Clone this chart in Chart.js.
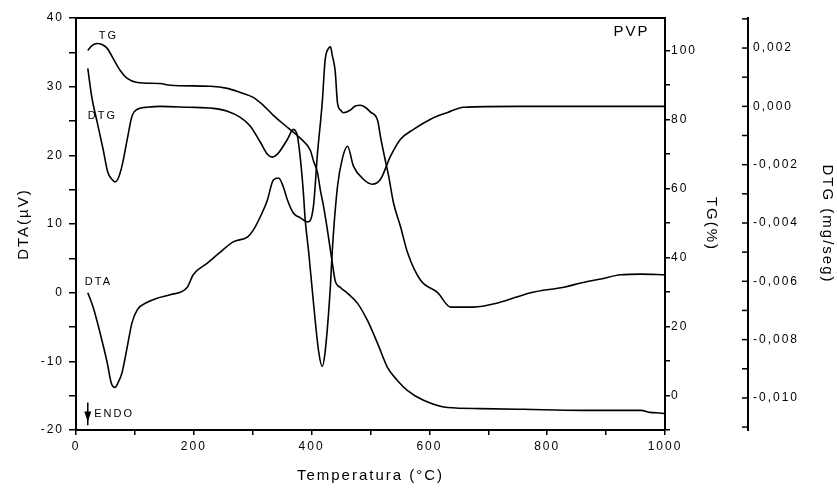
<!DOCTYPE html>
<html>
<head>
<meta charset="utf-8">
<script src="https://cdn.jsdelivr.net/npm/chart.js@4.4.1/dist/chart.umd.min.js"></script>
<style>
  body { margin: 0; background: #fff; }
  canvas { display: block; }
</style>
</head>
<body>
<canvas id="chart-tga" width="837" height="491"></canvas>
<script>
// temperatures (°C) and readings for each curve
const dtaTemp = [20, 29, 41, 53, 60, 66, 72, 78, 87, 95, 104, 121, 138, 160, 189, 199, 223, 245, 267, 291, 301, 318, 325, 335, 344, 352, 359, 369, 381, 393, 403, 410, 418, 423, 429, 432, 435, 440, 444, 449, 454, 466, 474, 483, 491, 500, 512, 517, 526, 531, 539, 551, 563, 585, 614, 636, 675, 716, 772, 828, 857, 891, 925, 959, 1000];
const dtaValues = [0, -2.1, -5.9, -10.2, -13.2, -13.8, -13.0, -11.7, -7.9, -4.4, -2.5, -1.4, -0.8, -0.3, 0.8, 2.6, 4.3, 5.9, 7.4, 8.1, 9.1, 12.0, 13.5, 16.4, 16.7, 15.4, 13.5, 11.6, 10.9, 10.3, 12.5, 20.3, 27.6, 33.9, 35.6, 35.8, 34.6, 32.3, 27.6, 26.6, 26.2, 26.6, 27.2, 27.3, 27.0, 26.3, 25.1, 22.7, 18.9, 16.9, 13.1, 9.6, 5.8, 1.8, 0.0, -2.1, -2.1, -1.5, 0.0, 0.8, 1.4, 2.0, 2.6, 2.7, 2.6];

const tgTemp = [20, 27, 36, 44, 53, 63, 75, 87, 104, 143, 160, 228, 257, 279, 301, 318, 335, 359, 381, 398, 403, 410, 415, 420, 427, 435, 440, 449, 461, 478, 495, 512, 529, 546, 563, 590, 631, 687, 760, 857, 959, 975, 985, 1000];
const tgValues = [100.0, 101.4, 102.0, 101.7, 100.6, 97.7, 94.2, 91.9, 90.7, 90.4, 89.9, 89.6, 89.0, 87.8, 86.4, 84.1, 81.2, 77.7, 74.5, 71.0, 68.1, 64.6, 59.4, 55.1, 47.8, 38.6, 33.3, 31.3, 29.6, 26.7, 21.7, 15.1, 8.1, 4.3, 1.4, -1.4, -3.5, -3.8, -4.0, -4.3, -4.3, -4.9, -5.0, -5.2];

const dtgTemp = [20, 27, 36, 46, 54, 61, 66, 71, 78, 87, 95, 104, 121, 143, 189, 233, 257, 279, 296, 313, 325, 333, 342, 359, 369, 376, 381, 386, 389, 395, 403, 412, 418, 423, 432, 435, 444, 452, 461, 471, 488, 503, 517, 534, 551, 573, 602, 631, 658, 750, 850, 1000];
const dtgValues = [0.0013, 0.0003, -0.00055, -0.00147, -0.00226, -0.0025, -0.00259, -0.0025, -0.00205, -0.00113, -0.00034, -0.0001, -0.00003, 0, -0.00003, -0.00007, -0.00017, -0.00038, -0.00068, -0.00123, -0.00164, -0.00174, -0.00164, -0.00113, -0.00079, -0.00103, -0.00181, -0.00294, -0.00386, -0.00499, -0.0067, -0.00841, -0.00892, -0.00841, -0.00615, -0.00499, -0.00274, -0.00181, -0.00137, -0.00205, -0.0025, -0.00267, -0.0025, -0.00171, -0.00113, -0.00079, -0.00044, -0.00021, -0.00003, 0, 0, 0];

// text labels drawn on the plot: [text, temperature, DTA value, align]
const notes = [
  ['TG', 55, 37.4, 'center'],
  ['DTG', 20, 25.8, 'left'],
  ['DTA', 15, 1.6, 'left'],
  ['ENDO', 31, -17.7, 'left'],
];

const toPoints = (xs, ys) => xs.map((x, i) => ({ x, y: ys[i] }));

const FONT = 'Arial, "Liberation Sans", sans-serif';
const tickFont = { family: FONT, size: 12 };
const titleFont = { family: FONT, size: 15 };

const fixSize = (prop, value) => (scale) => { scale[prop] = value; };

const extras = {
  id: 'extras',
  beforeDraw: (chart) => {
    chart.ctx.letterSpacing = '2px';
  },
  afterDraw: (chart) => {
    const { ctx, chartArea, scales } = chart;
    const xs = scales.x;
    const ys = scales.y;
    ctx.save();
    ctx.strokeStyle = '#000';
    ctx.fillStyle = '#000';

    // top frame line
    ctx.lineWidth = 2;
    ctx.beginPath();
    ctx.moveTo(chartArea.left, chartArea.top);
    ctx.lineTo(chartArea.right + 1, chartArea.top);
    ctx.stroke();

    // DTG axis ticks point inward
    const d = scales.yDTG;
    ctx.lineWidth = 1.5;
    d.ticks.forEach((t, i) => {
      const y = d.getPixelForTick(i);
      ctx.beginPath();
      ctx.moveTo(d.left - 6, y);
      ctx.lineTo(d.left, y);
      ctx.stroke();
    });

    // curve labels
    ctx.font = '11px ' + FONT;
    ctx.letterSpacing = '2px';
    ctx.textBaseline = 'middle';
    notes.forEach(([text, t, v, align]) => {
      ctx.textAlign = align;
      ctx.fillText(text, xs.getPixelForValue(t), ys.getPixelForValue(v));
    });

    // endo arrow
    const ax = xs.getPixelForValue(20);
    const a0 = ys.getPixelForValue(-16.0);
    const a1 = ys.getPixelForValue(-19.3);
    const head = ys.getPixelForValue(-17.3);
    const tip = ys.getPixelForValue(-18.8);
    ctx.lineWidth = 1.5;
    ctx.beginPath();
    ctx.moveTo(ax, a0);
    ctx.lineTo(ax, a1);
    ctx.stroke();
    ctx.beginPath();
    ctx.moveTo(ax - 3.5, head);
    ctx.lineTo(ax + 3.5, head);
    ctx.lineTo(ax, tip);
    ctx.closePath();
    ctx.fill();

    // sample name
    ctx.font = '15px ' + FONT;
    ctx.textAlign = 'center';
    ctx.fillText('PVP', xs.getPixelForValue(943), ys.getPixelForValue(38.0));
    ctx.restore();
  },
};

const lineStyle = {
  borderColor: '#000',
  borderWidth: 1.6,
  pointRadius: 0,
  fill: false,
  cubicInterpolationMode: 'monotone',
};

const axisStyle = (tickLength) => ({
  grid: { drawOnChartArea: false, color: '#000', lineWidth: 1.5, tickLength },
  border: { color: '#000', width: 2 },
});

new Chart(document.getElementById('chart-tga').getContext('2d'), {
  type: 'line',
  data: {
    datasets: [
      { ...lineStyle, label: 'DTA', data: toPoints(dtaTemp, dtaValues), yAxisID: 'y' },
      { ...lineStyle, label: 'TG', data: toPoints(tgTemp, tgValues), yAxisID: 'yTG' },
      { ...lineStyle, label: 'DTG', data: toPoints(dtgTemp, dtgValues), yAxisID: 'yDTG' },
    ],
  },
  options: {
    responsive: false,
    animation: false,
    color: '#000',
    layout: { padding: { top: 18, left: 0, right: 0, bottom: 0 } },
    plugins: { legend: { display: false }, tooltip: { enabled: false } },
    scales: {
      x: {
        type: 'linear',
        position: 'bottom',
        min: 0,
        max: 1000,
        ...axisStyle(5),
        afterFit: fixSize('height', 61),
        ticks: {
          stepSize: 100,
          autoSkip: false,
          maxRotation: 0,
          maxTicksLimit: 30,
          color: '#000',
          font: tickFont,
          padding: 4,
          callback: (v) => (v % 200 === 0 ? v : ''),
        },
        title: { display: true, text: 'Temperatura (°C)', color: '#000', font: titleFont, padding: { top: 0, bottom: 6 } },
      },
      y: {
        position: 'left',
        min: -20,
        max: 40,
        ...axisStyle(7),
        afterFit: fixSize('width', 76),
        ticks: {
          stepSize: 5,
          maxTicksLimit: 30,
          color: '#000',
          font: tickFont,
          padding: 5,
          callback: (v) => (v % 10 === 0 ? v : ''),
        },
        title: { display: true, text: 'DTA(µV)', color: '#000', font: titleFont, padding: { top: 15, bottom: 0 } },
      },
      yTG: {
        position: 'right',
        weight: 1,
        min: -10,
        max: 109.4,
        ...axisStyle(5),
        afterFit: fixSize('width', 83),
        ticks: {
          stepSize: 10,
          includeBounds: false,
          maxTicksLimit: 30,
          color: '#000',
          font: tickFont,
          padding: 1,
          callback: (v) => (v % 20 === 0 && v >= 0 ? v : ''),
        },
        title: { display: true, text: 'TG(%)', color: '#000', font: titleFont, padding: { top: 28, bottom: 0 } },
      },
      yDTG: {
        position: 'right',
        weight: 2,
        min: -0.0111,
        max: 0.00303,
        grid: { drawOnChartArea: false, drawTicks: false },
        border: { color: '#000', width: 2 },
        afterFit: fixSize('width', 89),
        ticks: {
          stepSize: 0.001,
          includeBounds: false,
          maxTicksLimit: 30,
          color: '#000',
          font: tickFont,
          padding: 5,
          callback: (v) => {
            const n = Math.round(v * 1000);
            return n % 2 === 0 ? (n / 1000).toFixed(3).replace('.', ',') : '';
          },
        },
        title: { display: true, text: 'DTG (mg/seg)', color: '#000', font: titleFont, padding: { top: 1, bottom: 0 } },
      },
    },
  },
  plugins: [extras],
});
</script>
</body>
</html>
